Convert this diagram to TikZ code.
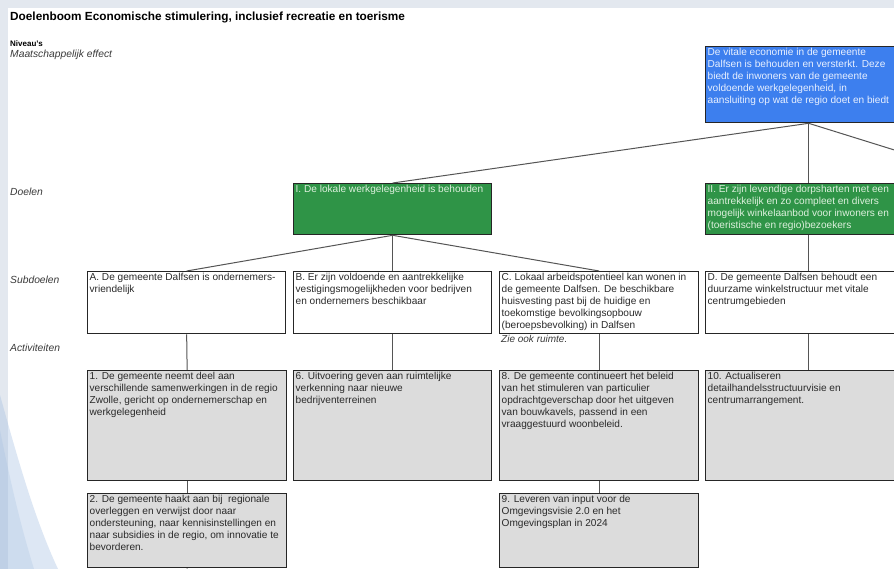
\documentclass[tikz,border=0pt]{standalone}
\usepackage{fontspec}
\setmainfont{Liberation Sans}
\definecolor{bgband}{HTML}{E3E8EF}
\definecolor{swoosh}{HTML}{9FBCE0}
\definecolor{topblue}{HTML}{3D7FEE}
\definecolor{toptext}{HTML}{E8F0FF}
\definecolor{goalgreen}{HTML}{2F9447}
\definecolor{goaltext}{HTML}{DDF0DD}
\definecolor{actgray}{HTML}{DCDCDC}
\definecolor{boxline}{HTML}{262626}
\definecolor{textdark}{HTML}{2A2A2A}
\definecolor{textgray}{HTML}{3A3A3A}
\definecolor{lineg}{HTML}{555555}
\newcommand{\tbox}[3]{\parbox[t][#2][t]{#1}{\raggedright #3}}
\tikzset{
  lvl/.style={anchor=west, inner sep=0pt, text=textgray, font=\fontsize{10.3}{12}\selectfont\itshape},
  subbox/.style={draw=boxline, line width=1.3pt, fill=white, anchor=north west,
    inner xsep=2pt, inner ysep=1.5pt, text=textdark, font=\fontsize{10.1}{12}\selectfont},
  actbox/.style={subbox, fill=actgray},
  goalbox/.style={subbox, fill=goalgreen, text=goaltext},
  topbox/.style={subbox, fill=topblue, text=toptext},
  conn/.style={draw=lineg, line width=1pt}
}
\begin{document}
\begin{tikzpicture}[x=1pt,y=-1pt]
\useasboundingbox (0,0) rectangle (894,569);
\clip (0,0) rectangle (894,569);
% background
\fill[bgband] (0,0) rectangle (894,569);
\fill[white] (8,8) rectangle (894,569);
\fill[swoosh, opacity=0.35] (0,395) .. controls (18,460) and (35,520) .. (58,569) -- (0,569) -- cycle;
\fill[swoosh, opacity=0.25] (0,430) .. controls (12,490) and (22,530) .. (34,569) -- (0,569) -- cycle;

% title and level labels
\node[anchor=west, inner sep=0pt, font=\fontsize{11.8}{14}\selectfont\bfseries, text=black] (title) at (10,17) {Doelenboom Economische stimulering, inclusief recreatie en toerisme};
\node[anchor=west, inner sep=0pt, font=\fontsize{8}{10}\selectfont\bfseries, text=black] (niv) at (10,44) {Niveau's};
\node[lvl] (lme) at (10,55) {Maatschappelijk effect};
\node[lvl] (ldo) at (10,192) {Doelen};
\node[lvl] (lsd) at (10,280) {Subdoelen};
\node[lvl] (lac) at (10,348) {Activiteiten};

% top level
\node[topbox] (top) at (705,46) {\tbox{202pt}{73pt}{De vitale economie in de gemeente\\Dalfsen is behouden en versterkt. Deze\\biedt de inwoners van de gemeente\\voldoende werkgelegenheid, in\\aansluiting op wat de regio doet en biedt}};

% goals
\node[goalbox] (gI) at (293,183) {\tbox{194pt}{48pt}{I. De lokale werkgelegenheid is behouden}};
\node[goalbox] (gII) at (705,183) {\tbox{202pt}{48pt}{II. Er zijn levendige dorpsharten met een\\aantrekkelijk en zo compleet en divers\\mogelijk winkelaanbod voor inwoners en\\(toeristische en regio)bezoekers}};

% subgoals
\node[subbox] (A) at (87,271) {\tbox{194pt}{59pt}{A. De gemeente Dalfsen is ondernemers-\\vriendelijk}};
\node[subbox] (B) at (293,271) {\tbox{194pt}{59pt}{B. Er zijn voldoende en aantrekkelijke\\vestigingsmogelijkheden voor bedrijven\\en ondernemers beschikbaar}};
\node[subbox] (C) at (499,271) {\tbox{195pt}{59pt}{C. Lokaal arbeidspotentieel kan wonen in\\de gemeente Dalfsen. De beschikbare\\huisvesting past bij de huidige en\\toekomstige bevolkingsopbouw\\(beroepsbevolking) in Dalfsen}};
\node[anchor=north west, inner sep=0pt, text=textgray, font=\fontsize{10}{12}\selectfont\itshape] (zie) at (501,335) {Zie ook ruimte.};
\node[subbox] (D) at (705,271) {\tbox{202pt}{59pt}{D. De gemeente Dalfsen behoudt een\\duurzame winkelstructuur met vitale\\centrumgebieden}};

% activities
\node[actbox] (a1) at (87,370) {\tbox{195pt}{107pt}{1. De gemeente neemt deel aan\\verschillende samenwerkingen in de regio\\Zwolle, gericht op ondernemerschap en\\werkgelegenheid}};
\node[actbox] (a6) at (293,370) {\tbox{194pt}{107pt}{6. Uitvoering geven aan ruimtelijke\\verkenning naar nieuwe\\bedrijventerreinen}};
\node[actbox] (a8) at (499,370) {\tbox{195pt}{107pt}{8. De gemeente continueert het beleid\\van het stimuleren van particulier\\opdrachtgeverschap door het uitgeven\\van bouwkavels, passend in een\\vraaggestuurd woonbeleid.}};
\node[actbox] (a10) at (705,370) {\tbox{202pt}{107pt}{10. Actualiseren\\detailhandelsstructuurvisie en\\centrumarrangement.}};
\node[actbox] (a2) at (87,493) {\tbox{195pt}{71pt}{2. De gemeente haakt aan bij\ \ regionale\\overleggen en verwijst door naar\\ondersteuning, naar kennisinstellingen en\\naar subsidies in de regio, om innovatie te\\bevorderen.}};
\node[actbox] (a9) at (499,493) {\tbox{195pt}{71pt}{9. Leveren van input voor de\\Omgevingsvisie 2.0 en het\\Omgevingsplan in 2024}};

% connectors
\coordinate (offR) at (904,153);
\coordinate (offB) at (188,580);
\draw[conn] (top.south) -- (gI.north);
\draw[conn] (top.south) -- (gII.north);
\draw[conn] (top.south) -- (offR);
\draw[conn] (gI.south) -- (A.north);
\draw[conn] (gI.south) -- (B.north);
\draw[conn] (gI.south) -- (C.north);
\draw[conn] (gII.south) -- (D.north);
\draw[conn] (A.south) -- (a1.north);
\draw[conn] (B.south) -- (a6.north);
\draw[conn] (C.south) -- (a8.north);
\draw[conn] (D.south) -- (a10.north);
\draw[conn] (a1.south) -- (a2.north);
\draw[conn] (a8.south) -- (a9.north);
\draw[conn] (a2.south) -- (offB);
\end{tikzpicture}
\end{document}
